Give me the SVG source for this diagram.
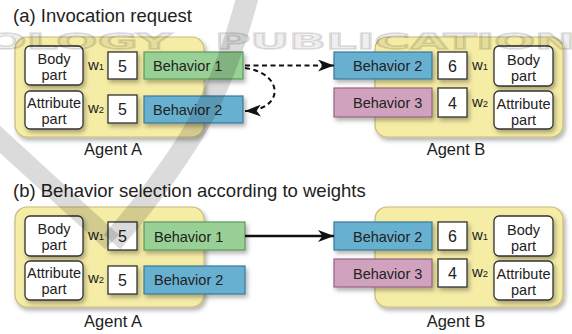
<svg xmlns="http://www.w3.org/2000/svg" width="572" height="334" viewBox="0 0 572 334">
  <defs>
    <style>
      .t{font-family:"Liberation Sans",Arial,sans-serif;fill:#222}
      .title{font-size:18.5px}
      .lbl{font-size:16.5px;text-anchor:middle}
      .part-t{font-size:14.5px;text-anchor:middle}
      .beh-t{font-size:14.5px}
      .num{font-size:16px;text-anchor:middle}
      .w{font-size:15px}
      .sub{font-size:9.5px}
      .agent{fill:#f5eca6;stroke:#c9bb78;stroke-width:1.2}
      .part{fill:#fff;stroke:#333;stroke-width:1.3}
      .wbox{fill:#fff;stroke:#333;stroke-width:1.3}
      .b1{fill:#98d096;stroke:#5b985a;stroke-width:1.2}
      .b2{fill:#68b0d0;stroke:#3a7b9a;stroke-width:1.2}
      .b3{fill:#d0a2be;stroke:#946482;stroke-width:1.2}
      .dash{fill:none;stroke:#111;stroke-width:2;stroke-dasharray:5 3.5}
      .solid{fill:none;stroke:#111;stroke-width:2.5}
      .wm{font-family:"DejaVu Sans",sans-serif;font-weight:bold;font-size:22px;fill:#000;fill-opacity:0.06;stroke:#000;stroke-opacity:0.15;stroke-width:1.4}
      .band{fill:none;stroke:#000;stroke-opacity:0.14;stroke-width:22}
    </style>
    <filter id="sh" x="-15%" y="-15%" width="140%" height="150%">
      <feDropShadow dx="2" dy="3" stdDeviation="2" flood-color="#000" flood-opacity="0.3"/>
    </filter>
    <marker id="head" viewBox="0 0 16 12" refX="16" refY="6" markerWidth="16" markerHeight="12" markerUnits="userSpaceOnUse" orient="auto">
      <path d="M0,0 L16,6 L0,12 L4.5,6 Z" fill="#111"/>
    </marker>
  </defs>

  <rect width="572" height="334" fill="#fff"/>

  <!-- panel titles -->
  <text class="t title" x="13" y="22">(a) Invocation request</text>
  <text class="t title" x="13" y="197">(b) Behavior selection according to weights</text>

  <!-- (a) Agent A -->
  <g id="agentA-a">
    <rect class="agent" x="15" y="37" width="189" height="100" rx="12" filter="url(#sh)"/>
    <rect class="part" x="25" y="46" width="58" height="39" rx="5" filter="url(#sh)"/>
    <text class="t part-t" x="54" y="64">Body</text>
    <text class="t part-t" x="54" y="80">part</text>
    <rect class="part" x="25" y="91" width="58" height="38" rx="5" filter="url(#sh)"/>
    <text class="t part-t" x="54" y="108">Attribute</text>
    <text class="t part-t" x="54" y="124">part</text>
    <text class="t w" x="88" y="70">w<tspan class="sub">1</tspan></text>
    <text class="t w" x="88" y="113">w<tspan class="sub">2</tspan></text>
    <rect class="wbox" x="108" y="52" width="29" height="27" filter="url(#sh)"/>
    <text class="t num" x="122.5" y="72">5</text>
    <rect class="wbox" x="108" y="95" width="29" height="28" filter="url(#sh)"/>
    <text class="t num" x="122.5" y="115">5</text>
    <rect class="b1" x="144" y="52" width="99" height="27" filter="url(#sh)"/>
    <text class="t beh-t" x="153" y="71">Behavior 1</text>
    <rect class="b2" x="144" y="96" width="99" height="27" filter="url(#sh)"/>
    <text class="t beh-t" x="153" y="114.5">Behavior 2</text>
    <text class="t lbl" x="113" y="155">Agent A</text>
  </g>

  <!-- (a) Agent B -->
  <g id="agentB-a">
    <rect class="agent" x="375" y="37" width="188" height="100" rx="12" filter="url(#sh)"/>
    <rect class="b2" x="334" y="52" width="98" height="27" filter="url(#sh)"/>
    <text class="t beh-t" x="353" y="71">Behavior 2</text>
    <rect class="b3" x="334" y="88" width="98" height="29" filter="url(#sh)"/>
    <text class="t beh-t" x="353" y="108">Behavior 3</text>
    <rect class="wbox" x="438" y="52" width="29" height="27" filter="url(#sh)"/>
    <text class="t num" x="452.5" y="72">6</text>
    <rect class="wbox" x="438" y="88" width="29" height="29" filter="url(#sh)"/>
    <text class="t num" x="452.5" y="109">4</text>
    <text class="t w" x="472" y="70">w<tspan class="sub">1</tspan></text>
    <text class="t w" x="472" y="107">w<tspan class="sub">2</tspan></text>
    <rect class="part" x="494" y="46" width="59" height="40" rx="5" filter="url(#sh)"/>
    <text class="t part-t" x="523.5" y="65">Body</text>
    <text class="t part-t" x="523.5" y="81">part</text>
    <rect class="part" x="494" y="91" width="59" height="38" rx="5" filter="url(#sh)"/>
    <text class="t part-t" x="523.5" y="109">Attribute</text>
    <text class="t part-t" x="523.5" y="125">part</text>
    <text class="t lbl" x="456" y="155">Agent B</text>
  </g>

  <!-- (b) Agent A -->
  <g id="agentA-b" transform="translate(0,170)">
    <rect class="agent" x="15" y="37" width="189" height="100" rx="12" filter="url(#sh)"/>
    <rect class="part" x="25" y="46" width="58" height="40" rx="5" filter="url(#sh)"/>
    <text class="t part-t" x="54" y="64">Body</text>
    <text class="t part-t" x="54" y="80">part</text>
    <rect class="part" x="25" y="91" width="58" height="39" rx="5" filter="url(#sh)"/>
    <text class="t part-t" x="54" y="108">Attribute</text>
    <text class="t part-t" x="54" y="124">part</text>
    <text class="t w" x="88" y="70">w<tspan class="sub">1</tspan></text>
    <text class="t w" x="88" y="113">w<tspan class="sub">2</tspan></text>
    <rect class="wbox" x="108" y="52" width="29" height="28" filter="url(#sh)"/>
    <text class="t num" x="122.5" y="72">5</text>
    <rect class="wbox" x="108" y="96" width="29" height="28" filter="url(#sh)"/>
    <text class="t num" x="122.5" y="116">5</text>
    <rect class="b1" x="144" y="52" width="101" height="28" filter="url(#sh)"/>
    <text class="t beh-t" x="154" y="71.5">Behavior 1</text>
    <rect class="b2" x="144" y="96" width="101" height="28" filter="url(#sh)"/>
    <text class="t beh-t" x="154" y="115">Behavior 2</text>
    <text class="t lbl" x="113" y="157">Agent A</text>
  </g>

  <!-- (b) Agent B -->
  <g id="agentB-b" transform="translate(0,170)">
    <rect class="agent" x="375" y="37" width="188" height="100" rx="12" filter="url(#sh)"/>
    <rect class="b2" x="334" y="52" width="98" height="28" filter="url(#sh)"/>
    <text class="t beh-t" x="353" y="71.5">Behavior 2</text>
    <rect class="b3" x="334" y="89" width="98" height="28" filter="url(#sh)"/>
    <text class="t beh-t" x="353" y="108.5">Behavior 3</text>
    <rect class="wbox" x="438" y="52" width="29" height="28" filter="url(#sh)"/>
    <text class="t num" x="452.5" y="72">6</text>
    <rect class="wbox" x="438" y="89" width="29" height="28" filter="url(#sh)"/>
    <text class="t num" x="452.5" y="109">4</text>
    <text class="t w" x="472" y="70">w<tspan class="sub">1</tspan></text>
    <text class="t w" x="472" y="107">w<tspan class="sub">2</tspan></text>
    <rect class="part" x="494" y="46" width="59" height="40" rx="5" filter="url(#sh)"/>
    <text class="t part-t" x="523.5" y="65">Body</text>
    <text class="t part-t" x="523.5" y="81">part</text>
    <rect class="part" x="494" y="91" width="59" height="39" rx="5" filter="url(#sh)"/>
    <text class="t part-t" x="523.5" y="109">Attribute</text>
    <text class="t part-t" x="523.5" y="125">part</text>
    <text class="t lbl" x="456" y="157">Agent B</text>
  </g>

  <!-- connectors -->
  <g id="connectors">
    <line class="dash" x1="245" y1="65.5" x2="334" y2="65.5" marker-end="url(#head)"/>
    <path class="dash" d="M245,68 C284,73 285,110 245,111" marker-end="url(#head)"/>
    <line class="solid" x1="245" y1="236" x2="334" y2="236" marker-end="url(#head)"/>
  </g>

  <!-- publisher watermark -->
  <g id="watermark">
    <path class="band" d="M248,-5 C226,80 200,140 112,242"/>
    <path class="band" d="M-8,132 L112,242" style="stroke-width:20"/>
    <text class="wm" x="-15" y="49" textLength="187" lengthAdjust="spacingAndGlyphs">OLOGY</text>
    <text class="wm" x="215" y="49" textLength="395" lengthAdjust="spacingAndGlyphs">PUBLICATIONS</text>
  </g>
</svg>
